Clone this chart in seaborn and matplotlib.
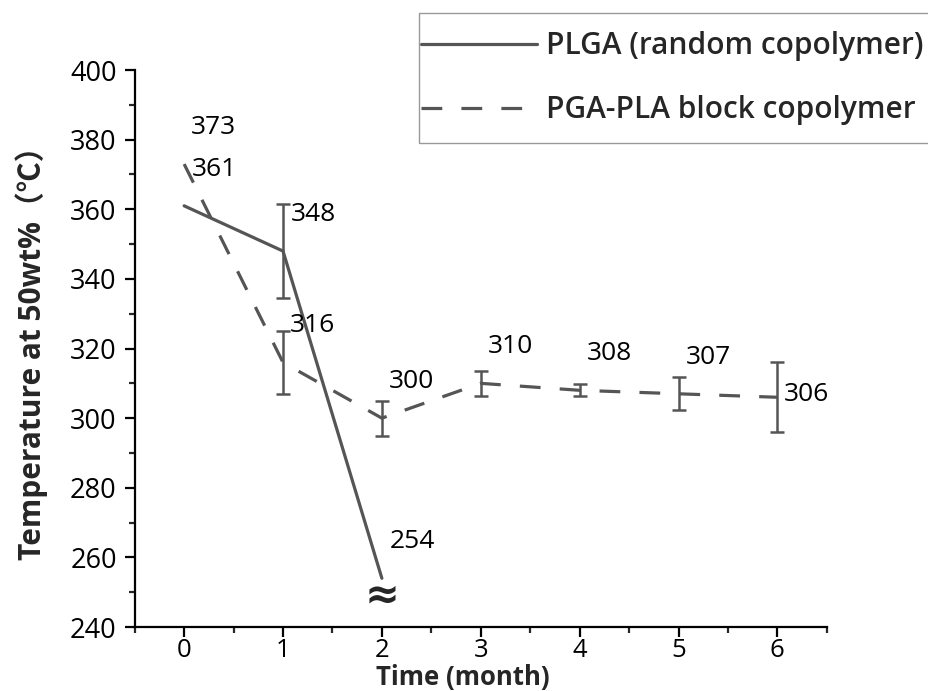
"""
Thermal degradation: temperature at 50 wt% loss vs. hydrolysis time
"""
import pandas as pd
import matplotlib.pyplot as plt
from matplotlib.patches import Rectangle
import seaborn as sns

sns.set_theme(style="ticks")
plt.rcParams["font.family"] = ["Open Sans", "Noto Sans CJK SC", "DejaVu Sans"]

LINE = "#555555"

# ---------- data ----------
plga_months = [0, 1, 2]
plga_temp = [361, 348, 254]
plga_err = [0, 13.5, 0]

block_months = [0, 1, 2, 3, 4, 5, 6]
block_temp = [373, 316, 300, 310, 308, 307, 306]
block_err = [0, 9, 5, 3.5, 1.7, 4.7, 10]

plga = pd.DataFrame({"month": plga_months, "temp": plga_temp})
block = pd.DataFrame({"month": block_months, "temp": block_temp})

fig = plt.figure(figsize=(9.29, 6.91), dpi=100)
ax = fig.add_axes([0.145, 0.0926, 0.745, 0.806])

sns.lineplot(data=plga, x="month", y="temp", ax=ax, color=LINE, lw=2.3,
             label="PLGA (random copolymer)")
sns.lineplot(data=block, x="month", y="temp", ax=ax, color=LINE, lw=2.3,
             dashes=False, label="PGA-PLA block copolymer")
ax.lines[1].set_dashes((6.5, 6))

# error bars
for xs, ys, es in [(plga_months, plga_temp, plga_err), (block_months, block_temp, block_err)]:
    xe = [x for x, e in zip(xs, es) if e > 0]
    ye = [y for y, e in zip(ys, es) if e > 0]
    ee = [e for e in es if e > 0]
    ax.errorbar(xe, ye, yerr=ee, fmt="none", ecolor=LINE, elinewidth=1.8,
                capsize=5, capthick=1.8)

# value labels
lab_kw = dict(fontsize=19, ha="left", va="center", color="black")
for x, y in zip(plga_months, plga_temp):
    ax.text(x + 0.08, y + 10.5, f"{y}", **lab_kw)
for x, y in zip(block_months, block_temp):
    dy = 0.7 if x == 6 else 10.5
    ax.text(x + 0.07, y + dy, f"{y}", **lab_kw)

# axis break mark
ax.text(2, 249, "≈", fontsize=30, fontweight="bold", ha="center", va="center",
        family="DejaVu Sans")

ax.set_xlim(-0.5, 6.5)
ax.set_ylim(240, 400)
ax.set_xticks(range(0, 7))
ax.set_xticks([x + 0.5 for x in range(-1, 7)], minor=True)
ax.set_yticks(range(240, 401, 20))
ax.set_yticks(range(250, 400, 20), minor=True)
ax.tick_params(axis="both", which="major", direction="out", length=7, width=1.6,
               colors="black")
ax.tick_params(axis="y", which="major", labelsize=19.5, pad=6)
ax.tick_params(axis="x", which="major", labelsize=18.5, pad=1)
ax.tick_params(axis="both", which="minor", direction="out", length=4.5, width=1.6)
for s in ["top", "right"]:
    ax.spines[s].set_visible(False)
for s in ["left", "bottom"]:
    ax.spines[s].set_linewidth(1.6)
    ax.spines[s].set_color("black")

ax.set_xlabel("Time (month)", fontsize=18.5, fontweight="bold")
ax.set_ylabel("Temperature at 50wt%（℃）", fontsize=21.5, fontweight="bold")
ax.xaxis.set_label_coords(0.474, -0.066)
ax.yaxis.set_label_coords(-0.125, 0.505)

leg = ax.legend(loc="upper left", bbox_to_anchor=(421 / 929, 1 - 31 / 691),
                bbox_transform=fig.transFigure, fontsize=21.5, handlelength=3.9,
                handletextpad=0.3, frameon=False, borderpad=0,
                labelspacing=1.15, borderaxespad=0)
for t in leg.get_texts():
    t.set_fontweight("semibold")
leg.get_lines()[1].set_dashes((6.5, 6))
fig.patches.append(Rectangle((419 / 929, 1 - 143 / 691), 0.6, 130 / 691,
                             transform=fig.transFigure, fill=False,
                             edgecolor="#999999", lw=1.0))

plt.savefig("out.png", dpi=100)
plt.close()
